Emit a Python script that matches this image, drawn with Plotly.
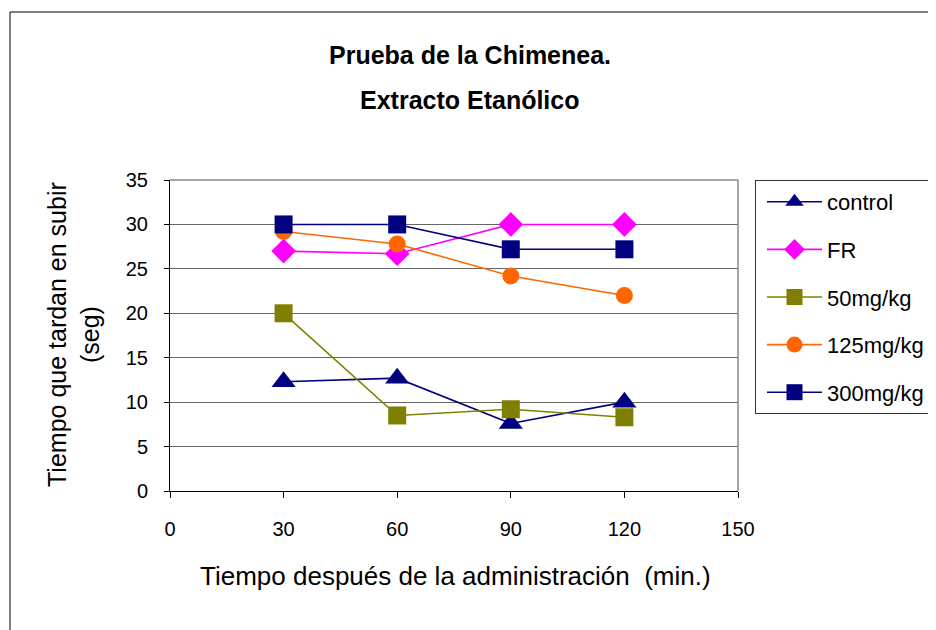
import plotly.graph_objects as go

times = [30, 60, 90, 120]
control = [12.3, 12.7, 7.6, 10.0]
fr = [27.0, 26.7, 30.0, 30.0]
mg50 = [20.0, 8.5, 9.2, 8.3]
mg125 = [29.2, 27.8, 24.2, 22.0]
mg300 = [30.0, 30.0, 27.2, 27.2]

series_names = ["control", "FR", "50mg/kg", "125mg/kg", "300mg/kg"]
series_values = [control, fr, mg50, mg125, mg300]
colors = ["#000080", "#FF00FF", "#808000", "#FF6600", "#000080"]
symbols = ["triangle-up", "diamond", "square", "circle", "square"]
sizes = [21, 19, 18, 17, 18]

x_ticks = [0, 30, 60, 90, 120, 150]
y_ticks = [0, 5, 10, 15, 20, 25, 30, 35]

fig = go.Figure()
for name, vals, c, s, sz in zip(series_names, series_values, colors, symbols, sizes):
    fig.add_trace(go.Scatter(
        x=times, y=vals, name=name, mode="lines+markers",
        line=dict(color=c, width=1.6),
        marker=dict(symbol=s, size=sz, color=c, line=dict(width=0)),
        legendgroup=name,
    ))

OFF = 8  # page body margin
W, H = 936 - OFF, 630 - OFF
L, R, T, B = 170 - OFF, 738 - OFF, 180 - OFF, 491 - OFF
pw, ph = R - L, B - T

def px(x):
    return (x - OFF - L) / pw

def py(y):
    return (B - (y - OFF)) / ph

font = "Arial, Liberation Sans, sans-serif"

fig.update_layout(
    width=W, height=H,
    margin=dict(l=L, r=W - R, t=T, b=H - B, autoexpand=False),
    paper_bgcolor="white", plot_bgcolor="white",
    font=dict(family=font, size=20, color="black"),
    showlegend=True,
    legend=dict(
        x=px(755), y=1.0, xanchor="left", yanchor="top",
        bordercolor="#333333", borderwidth=1,
        font=dict(size=22, family=font),
        tracegroupgap=16, itemwidth=55, indentation=6,
        traceorder="grouped",
    ),
    xaxis=dict(
        range=[0, 150], tickvals=x_ticks, ticktext=[str(v) for v in x_ticks],
        showgrid=False, zeroline=False, showline=True, linecolor="black", linewidth=1,
        ticks="outside", ticklen=6, tickcolor="black", tickfont=dict(size=20),
        ticklabelstandoff=14,
    ),
    yaxis=dict(
        range=[0, 35], tickvals=y_ticks, ticktext=[str(v) for v in y_ticks],
        showgrid=True, gridcolor="#666666", gridwidth=1, zeroline=False,
        showline=True, linecolor="black", linewidth=1,
        ticks="outside", ticklen=5, tickcolor="black", tickfont=dict(size=20),
        ticklabelstandoff=12,
    ),
    annotations=[
        dict(text="<b>Prueba de la Chimenea.</b>", x=px(470), y=py(55), xref="paper", yref="paper",
             showarrow=False, xanchor="center", yanchor="middle",
             font=dict(size=25, family=font)),
        dict(text="<b>Extracto Etanólico</b>", x=px(470), y=py(100), xref="paper", yref="paper",
             showarrow=False, xanchor="center", yanchor="middle",
             font=dict(size=25, family=font)),
        dict(text="Tiempo que tardan en subir<br>(seg)", x=px(73), y=py(335), xref="paper", yref="paper",
             textangle=-90, showarrow=False, font=dict(size=25), xanchor="center", yanchor="middle"),
        dict(text="Tiempo después de la administración  (min.)", x=px(455), y=py(576),
             xref="paper", yref="paper", showarrow=False, font=dict(size=26),
             xanchor="center", yanchor="middle"),
    ],
    shapes=[
        dict(type="line", xref="paper", yref="paper", x0=0, x1=1, y0=1, y1=1,
             line=dict(color="#888888", width=1.5)),
        dict(type="line", xref="paper", yref="paper", x0=1, x1=1, y0=0, y1=1,
             line=dict(color="#888888", width=1.5)),
        dict(type="line", xref="paper", yref="paper", x0=px(10), x1=px(10), y0=py(12), y1=py(640),
             line=dict(color="black", width=1)),
        dict(type="line", xref="paper", yref="paper", x0=px(10), x1=px(940), y0=py(12), y1=py(12),
             line=dict(color="black", width=1)),
    ],
)

fig.write_html("out.html")
